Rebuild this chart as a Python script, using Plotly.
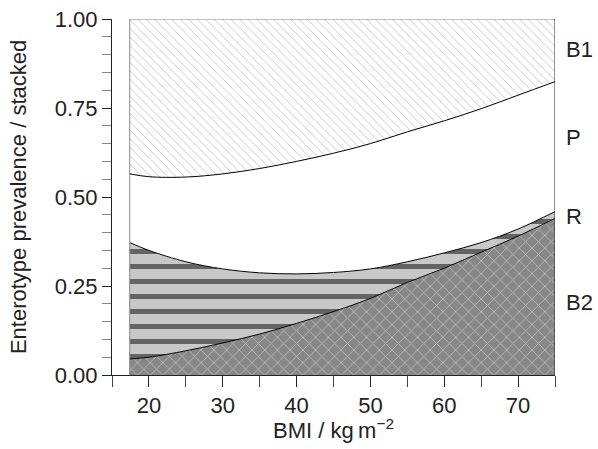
import plotly.graph_objects as go

# BMI grid (kg m^-2)
bmi = [17.4, 20, 25, 30, 35, 40, 45, 50, 55, 60, 65, 70, 75]
# Enterotype prevalences (stacked bottom to top: B2, R, P, B1)
prev_B2 = [0.045, 0.050, 0.068, 0.090, 0.115, 0.145, 0.178, 0.215, 0.260, 0.300, 0.345, 0.390, 0.440]
prev_R = [0.327, 0.300, 0.250, 0.208, 0.172, 0.139, 0.110, 0.083, 0.058, 0.043, 0.027, 0.020, 0.019]
prev_P = [0.193, 0.207, 0.238, 0.267, 0.293, 0.316, 0.335, 0.352, 0.365, 0.371, 0.376, 0.376, 0.365]
prev_B1 = [0.435, 0.443, 0.444, 0.435, 0.420, 0.400, 0.377, 0.350, 0.317, 0.286, 0.252, 0.214, 0.176]

labels = ["B2", "R", "P", "B1"]
label_y = [0.203, 0.445, 0.666, 0.913]

FONT = "Liberation Sans, Arial, sans-serif"
TXT = "#222222"
FS = 22

fig = go.Figure()

fig.add_trace(go.Scatter(
    x=bmi, y=prev_B2, name="B2", stackgroup="one", mode="lines",
    line=dict(color="black", width=1, shape="spline"),
    fillcolor="#878787",
    fillpattern=dict(shape="x", bgcolor="#878787", fgcolor="#e6e6e6", size=9, solidity=0.2),
))
fig.add_trace(go.Scatter(
    x=bmi, y=prev_R, name="R", stackgroup="one", mode="lines",
    line=dict(color="black", width=1, shape="spline"),
    fillcolor="#c8c8c8",
    fillpattern=dict(shape="-", bgcolor="#c8c8c8", fgcolor="#000000", size=15, solidity=0.33),
))
fig.add_trace(go.Scatter(
    x=bmi, y=prev_P, name="P", stackgroup="one", mode="lines",
    line=dict(color="black", width=1, shape="spline"),
    fillcolor="white",
))
fig.add_trace(go.Scatter(
    x=bmi, y=prev_B1, name="B1", stackgroup="one", mode="lines",
    line=dict(color="rgba(0,0,0,0)", width=0, shape="spline"),
    fillcolor="white",
    fillpattern=dict(shape="\\", bgcolor="white", fgcolor="#8c8c8c", size=6, solidity=0.15),
))

# frame around data region
fig.add_shape(type="line", x0=bmi[0], x1=bmi[0], y0=0, y1=1, line=dict(color="#888888", width=1), layer="above")
fig.add_shape(type="line", x0=bmi[0], x1=bmi[-1], y0=1, y1=1, line=dict(color="#888888", width=1.2), layer="above")
fig.add_shape(type="line", x0=bmi[-1], x1=bmi[-1], y0=0, y1=1, line=dict(color="#222222", width=1), layer="above")

for lab, yy in zip(labels, label_y):
    fig.add_annotation(x=1, xref="paper", y=yy, yref="y", text=lab, showarrow=False,
                       xanchor="left", xshift=9, font=dict(family=FONT, size=FS, color=TXT))

# axis titles as annotations
fig.add_annotation(x=-0.212, xref="paper", y=0.5, yref="paper",
                   text="Enterotype prevalence / stacked",
                   textangle=-90, showarrow=False, xanchor="center", yanchor="middle",
                   font=dict(family="Arial", size=FS, color=TXT))
fig.add_annotation(x=0.5, xref="paper", y=-0.152, yref="paper",
                   text="BMI / kg\u2009m<sup>−2</sup>",
                   showarrow=False, xanchor="center", yanchor="middle",
                   font=dict(family=FONT, size=FS, color=TXT))

fig.update_layout(
    width=598, height=449,
    margin=dict(l=112, r=43, t=19, b=74, autoexpand=False),
    paper_bgcolor="white", plot_bgcolor="white",
    showlegend=False,
    font=dict(family=FONT, size=FS, color=TXT),
)
fig.update_xaxes(
    range=[15, 75], showgrid=False, zeroline=False, automargin=False,
    showline=True, linecolor="#222222", linewidth=1,
    ticks="outside", ticklen=11, tickcolor="#222222", tickwidth=1,
    tick0=0, dtick=10,
    minor=dict(ticks="outside", ticklen=11, tickcolor="#444444", dtick=5, tick0=0, showgrid=False),
    tickfont=dict(family=FONT, size=FS, color=TXT),
)
fig.update_yaxes(
    range=[0, 1], showgrid=False, zeroline=False, automargin=False,
    showline=True, linecolor="#222222", linewidth=1,
    ticks="outside", ticklen=9, tickcolor="#222222", tickwidth=1,
    tick0=0, dtick=0.25, tickformat=".2f",
    minor=dict(ticks="outside", ticklen=9, tickcolor="#888888", dtick=0.05, tick0=0, showgrid=False),
    tickfont=dict(family=FONT, size=FS, color=TXT),
)

fig.write_html("out.html")
